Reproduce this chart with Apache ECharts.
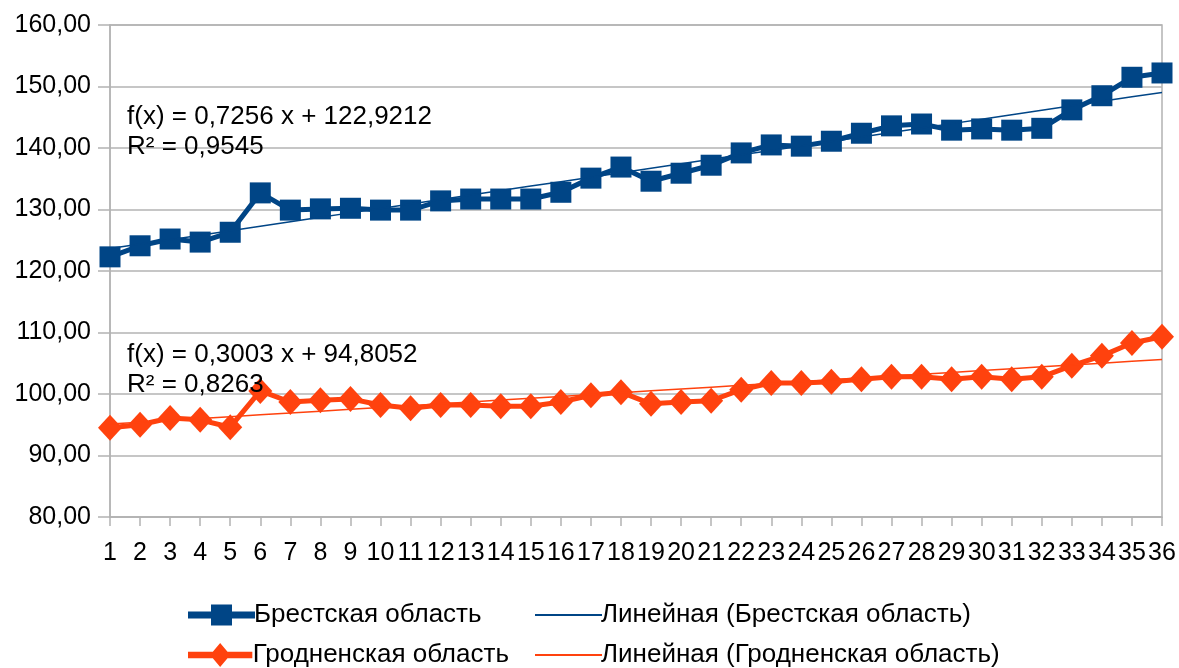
<!DOCTYPE html>
<html>
<head>
<meta charset="utf-8">
<script src="https://cdn.jsdelivr.net/npm/echarts@6/dist/echarts.min.js"></script>
<style>
html,body{margin:0;padding:0;background:#fff;}
#chart{width:1179px;height:668px;}
</style>
</head>
<body>
<div id="chart"></div>
<script>
const categories = ['1','2','3','4','5','6','7','8','9','10','11','12','13','14','15','16','17','18','19','20','21','22','23','24','25','26','27','28','29','30','31','32','33','34','35','36'];
const brestValues = [122.3,124.1,125.2,124.7,126.3,132.7,129.9,130.1,130.2,129.9,129.9,131.4,131.7,131.7,131.7,132.8,135.1,136.9,134.6,135.9,137.2,139.2,140.5,140.3,141.1,142.4,143.6,143.9,142.9,143.1,142.9,143.2,146.2,148.5,151.5,152.2];
const grodnoValues = [94.5,95.0,96.1,95.8,94.6,100.5,98.7,99.0,99.2,98.2,97.7,98.2,98.2,98.0,98.0,98.7,99.8,100.3,98.4,98.7,98.9,100.7,101.8,101.8,102.0,102.4,102.8,102.8,102.4,102.8,102.4,102.8,104.6,106.2,108.3,109.3];
const seriesNames = ['Брестская область','Гродненская область'];
const trendNames = ['Линейная (Брестская область)','Линейная (Гродненская область)'];
const brestTrend = {slope: 0.7256, intercept: 122.9212, r2: '0,9545', label: 'f(x) = 0,7256 x + 122,9212'};
const grodnoTrend = {slope: 0.3003, intercept: 94.8052, r2: '0,8263', label: 'f(x) = 0,3003 x + 94,8052'};

const trendData = t => categories.map((c, i) => +(t.intercept + t.slope * (i + 1)).toFixed(4));

const REG = "'Liberation Sans', Arial, sans-serif";
const BLUE = '#004586', ORANGE = '#ff420e';

const ICON_SQUARE = 'path://M0,8h67v7H0z M23,1h21v21H23z';
const ICON_DIAMOND = 'path://M0,8h67v7H0z M33.5,-1L44,11.5L33.5,24L23,11.5z';
const ICON_THIN = 'path://M0,0h67v2H0z';

const chart = echarts.init(document.getElementById('chart'));
const legendBase = {
  orient: 'horizontal', itemWidth: 67, itemHeight: 24, itemGap: 0,
  textStyle: {fontFamily: REG, fontSize: 26, color: '#000', padding: [0,0,0,-6]},
  selectedMode: false
};
chart.setOption({
  animation: false,
  backgroundColor: '#fff',
  grid: {left: 110, right: 17, top: 25, bottom: 151, show: true, borderColor: '#b3b3b3', borderWidth: 1.5},
  xAxis: {
    type: 'category', data: categories, boundaryGap: false,
    axisLine: {lineStyle: {color: '#b3b3b3', width: 1.5}},
    axisTick: {show: true, alignWithLabel: true, length: 9, lineStyle: {color: '#b3b3b3', width: 1.5}},
    axisLabel: {interval: 0, margin: 24, fontFamily: REG, fontSize: 25, color: '#000'},
    splitLine: {show: false}
  },
  yAxis: {
    type: 'value', min: 80, max: 160, interval: 10,
    axisLine: {show: true, lineStyle: {color: '#b3b3b3', width: 1.5}},
    axisTick: {show: true, inside: false, length: 12, lineStyle: {color: '#b3b3b3', width: 1.5}},
    axisLabel: {margin: 19, fontFamily: REG, fontSize: 25, color: '#000', formatter: v => v.toFixed(2).replace('.', ',')},
    splitLine: {show: true, lineStyle: {color: '#b3b3b3', width: 1.5}}
  },
  legend: [
    Object.assign({}, legendBase, {data: [{name: seriesNames[0], icon: ICON_SQUARE}], left: 183, top: 597}),
    Object.assign({}, legendBase, {data: [{name: trendNames[0], icon: ICON_THIN}], left: 530, top: 597, itemHeight: 2}),
    Object.assign({}, legendBase, {data: [{name: seriesNames[1], icon: ICON_DIAMOND}], left: 183, top: 637}),
    Object.assign({}, legendBase, {data: [{name: trendNames[1], icon: ICON_THIN}], left: 530, top: 637, itemHeight: 2})
  ],
  graphic: [
    {type: 'text', left: 127, top: 102, style: {text: brestTrend.label + '\nR² = ' + brestTrend.r2, font: '26px ' + REG, fill: '#000', lineHeight: 30}, z: 100},
    {type: 'text', left: 127, top: 340, style: {text: grodnoTrend.label + '\nR² = ' + grodnoTrend.r2, font: '26px ' + REG, fill: '#000', lineHeight: 30}, z: 100}
  ],
  series: [
    {name: trendNames[0], type: 'line', data: trendData(brestTrend), symbol: 'none', lineStyle: {color: BLUE, width: 1.5}, itemStyle: {color: BLUE}, z: 3},
    {name: trendNames[1], type: 'line', data: trendData(grodnoTrend), symbol: 'none', lineStyle: {color: ORANGE, width: 1.5}, itemStyle: {color: ORANGE}, z: 3},
    {name: seriesNames[0], type: 'line', data: brestValues, symbol: 'rect', symbolSize: 21, lineStyle: {color: BLUE, width: 5}, itemStyle: {color: BLUE}, z: 2},
    {name: seriesNames[1], type: 'line', data: grodnoValues, symbol: 'diamond', symbolSize: [24, 26], lineStyle: {color: ORANGE, width: 5}, itemStyle: {color: ORANGE}, z: 2}
  ]
});
</script>
</body>
</html>
